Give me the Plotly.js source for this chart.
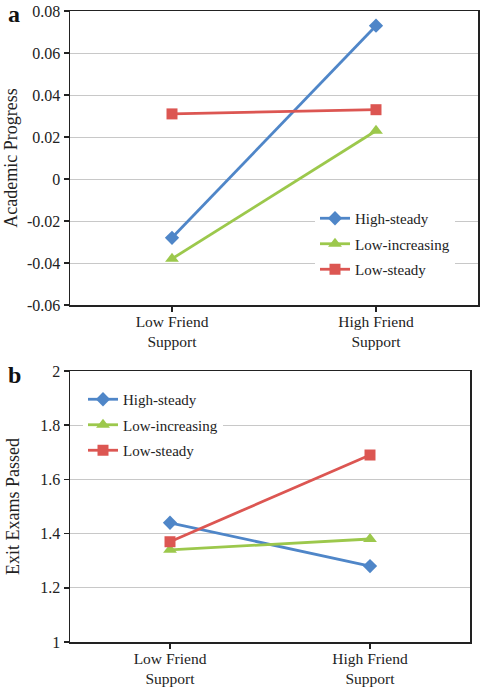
<!DOCTYPE html>
<html>
<head>
<meta charset="utf-8">
<script src="https://cdn.plot.ly/plotly-3.0.1.min.js"></script>
<style>html,body{margin:0;padding:0;background:#fff;}#chart{width:487px;height:691px;}</style>
</head>
<body>
<div id="chart"></div>
<script>
// Categories (x axis)
const categories = ["Low Friend<br>Support", "High Friend<br>Support"];
const seriesNames = ["High-steady", "Low-increasing", "Low-steady"];

// Panel a: Academic Progress
const academicHighSteady = [-0.028, 0.073];
const academicLowIncreasing = [-0.038, 0.023];
const academicLowSteady = [0.031, 0.033];
const academicTicks = [-0.06, -0.04, -0.02, 0, 0.02, 0.04, 0.06, 0.08];
const academicTickText = ["-0.06", "-0.04", "-0.02", "0", "0.02", "0.04", "0.06", "0.08"];

// Panel b: Exit Exams Passed
const examsHighSteady = [1.44, 1.28];
const examsLowIncreasing = [1.34, 1.38];
const examsLowSteady = [1.37, 1.69];
const examsTicks = [1, 1.2, 1.4, 1.6, 1.8, 2];
const examsTickText = ["1", "1.2", "1.4", "1.6", "1.8", "2"];

const colors = ["#4F86C8", "#9CC84C", "#DC5652"];
const symbols = ["diamond", "triangle-up", "square"];
const msizes = [11, 12, 11];

const serif = "Liberation Serif";

function mk(vals, i, xa, ya, leg) {
  return {
    x: categories, y: vals, name: seriesNames[i],
    xaxis: xa, yaxis: ya, legend: leg, legendgroup: leg + i,
    mode: "lines+markers", type: "scatter",
    line: {color: colors[i], width: 2.8},
    marker: {color: colors[i], symbol: symbols[i], size: msizes[i]},
    cliponaxis: false
  };
}

const data = [
  mk(academicHighSteady, 0, "x", "y", "legend"),
  mk(academicLowIncreasing, 1, "x", "y", "legend"),
  mk(academicLowSteady, 2, "x", "y", "legend"),
  mk(examsHighSteady, 0, "x2", "y2", "legend2"),
  mk(examsLowIncreasing, 1, "x2", "y2", "legend2"),
  mk(examsLowSteady, 2, "x2", "y2", "legend2")
];

const W = 487, H = 691;
function xaxisBase() {
  return {
    type: "category", showgrid: false, zeroline: false,
    showline: true, linecolor: "#222", linewidth: 1.5, mirror: true,
    ticks: "outside", ticklen: 5, tickcolor: "#222", tickwidth: 1.5,
    ticklabelstandoff: -3,
    tickfont: {family: serif, size: 15.5, color: "#222"},
    range: [-0.5, 1.5], fixedrange: true
  };
}
function yaxisBase() {
  return {
    showgrid: true, gridcolor: "#C8C8C8", gridwidth: 1, zeroline: false,
    showline: true, linecolor: "#222", linewidth: 1.5, mirror: true,
    ticks: "outside", ticklen: 5, tickcolor: "#222", tickwidth: 1.5,
    tickfont: {family: serif, size: 16, color: "#222"}, fixedrange: true
  };
}

const layout = {
  width: W, height: H,
  margin: {l: 0, r: 0, t: 0, b: 0},
  paper_bgcolor: "#fff", plot_bgcolor: "#fff",
  showlegend: true,
  xaxis: Object.assign(xaxisBase(), {domain: [70 / W, 478 / W], anchor: "y"}),
  yaxis: Object.assign(yaxisBase(), {
    domain: [1 - 305 / H, 1 - 11 / H], anchor: "x",
    range: [-0.06, 0.08], tickvals: academicTicks, ticktext: academicTickText,
    title: {text: "Academic Progress", font: {family: serif, size: 18, color: "#222"}, standoff: 4}
  }),
  xaxis2: Object.assign(xaxisBase(), {domain: [70 / W, 470 / W], anchor: "y2"}),
  yaxis2: Object.assign(yaxisBase(), {
    domain: [1 - 642 / H, 1 - 371 / H], anchor: "x2",
    range: [1, 2], tickvals: examsTicks, ticktext: examsTickText,
    title: {text: "Exit Exams Passed", font: {family: serif, size: 18, color: "#222"}, standoff: 16}
  }),
  legend: {
    x: 315 / W, y: 1 - 202 / H, xanchor: "left", yanchor: "top",
    bgcolor: "#fff", borderwidth: 0, tracegroupgap: 3, traceorder: "grouped",
    font: {family: serif, size: 15, color: "#222"}
  },
  legend2: {
    x: 83 / W, y: 1 - 383 / H, xanchor: "left", yanchor: "top",
    bgcolor: "#fff", borderwidth: 0, tracegroupgap: 3, traceorder: "grouped",
    font: {family: serif, size: 15, color: "#222"}
  },
  annotations: [
    {text: "<b>a</b>", xref: "paper", yref: "paper", x: 14 / W, y: 1 - 14 / H,
     xanchor: "center", yanchor: "middle", showarrow: false,
     font: {family: serif, size: 24, color: "#111"}},
    {text: "<b>b</b>", xref: "paper", yref: "paper", x: 14 / W, y: 1 - 375 / H,
     xanchor: "center", yanchor: "middle", showarrow: false,
     font: {family: serif, size: 24, color: "#111"}}
  ]
};

Plotly.newPlot("chart", data, layout, {staticPlot: true, displayModeBar: false});
</script>
</body>
</html>
